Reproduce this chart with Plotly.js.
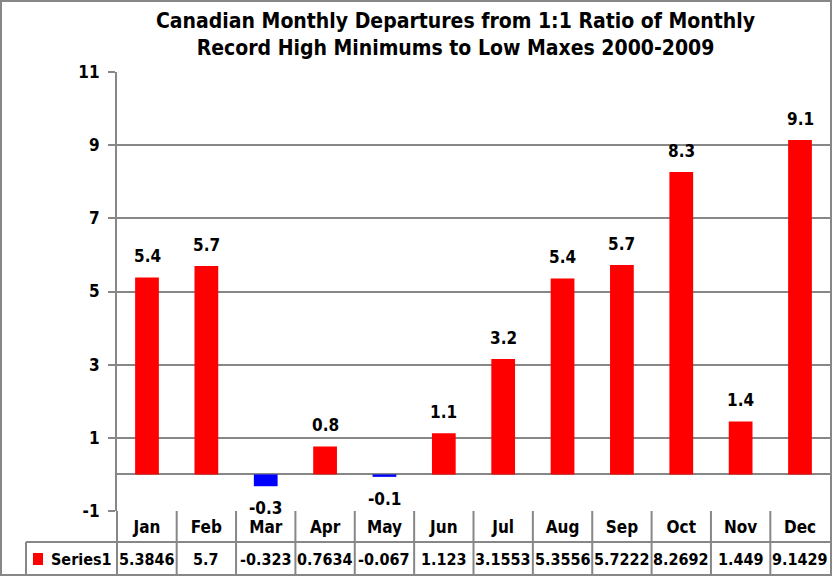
<!DOCTYPE html>
<html>
<head>
<meta charset="utf-8">
<script src="https://cdn.plot.ly/plotly-3.0.1.min.js"></script>
<style>
html,body{margin:0;padding:0;background:#fff;}
#chart{width:833px;height:577px;}
</style>
</head>
<body>
<div id="chart"></div>
<script>
const months = ["Jan","Feb","Mar","Apr","May","Jun","Jul","Aug","Sep","Oct","Nov","Dec"];
const values = [5.3846, 5.7, -0.323, 0.7634, -0.067, 1.123, 3.1553, 5.3556, 5.7222, 8.2692, 1.449, 9.1429];
const yTicks = [-1, 1, 3, 5, 7, 9, 11];
const seriesName = "Series1";
const titleText = "Canadian Monthly Departures from 1:1 Ratio of Monthly<br>Record High Minimums to Low Maxes 2000-2009";

const FONT = "Liberation Sans Narrow, DejaVu Sans Condensed, Arial Narrow, sans-serif";
const GRID = "#878787";

const W = 833, H = 577;
const M = {l: 117, r: 3, t: 72, b: 66};
const PW = W - M.l - M.r, PH = H - M.t - M.b;
const px = x => (x - M.l) / PW;          // pixel -> paper x
const py = y => (H - M.b - y) / PH;      // pixel -> paper y

const colors = values.map(v => v < 0 ? "#0000FF" : "#FF0000");

const trace = {
  type: "bar",
  x: months,
  y: values,
  marker: {color: colors, line: {width: 0}},
  hoverinfo: "x+y",
  showlegend: false
};

const annotations = [];
// title
annotations.push({
  x: px(455), y: py(34), xref: "paper", yref: "paper",
  text: titleText, showarrow: false, xanchor: "center", yanchor: "middle",
  font: {family: FONT, size: 21, color: "#000", weight: "bold"}
});
// data labels
values.forEach((v, i) => {
  annotations.push({
    x: months[i], y: v, xref: "x", yref: "y",
    text: v.toFixed(1), showarrow: false,
    yanchor: "middle", yshift: v < 0 ? -22 : 21,
    font: {family: FONT, size: 17, color: "#000", weight: "bold"}
  });
});
// data table values row
values.forEach((v, i) => {
  annotations.push({
    x: months[i], y: py(559), xref: "x", yref: "paper",
    text: String(v), showarrow: false, yanchor: "middle",
    font: {family: FONT, size: 16, color: "#000", weight: "bold"}
  });
});
// series label in table
annotations.push({
  x: px(49), y: py(559), xref: "paper", yref: "paper", xanchor: "left",
  text: seriesName, showarrow: false, yanchor: "middle",
  font: {family: FONT, size: 16, color: "#000", weight: "bold"}
});

const line = {color: GRID, width: 2};
const shapes = [];
// outer chart border
shapes.push({type: "rect", xref: "paper", yref: "paper", x0: px(1), x1: px(831), y0: py(575), y1: py(1), line: {color: GRID, width: 2}, layer: "below"});
// table vertical separators between categories
for (let i = 0; i < months.length - 1; i++) {
  shapes.push({type: "line", xref: "x", yref: "paper", x0: i + 0.5, x1: i + 0.5, y0: 0, y1: py(575), line: line});
}
// table left lines
shapes.push({type: "line", xref: "paper", yref: "paper", x0: 0, x1: 0, y0: 0, y1: py(575), line: line});
shapes.push({type: "line", xref: "paper", yref: "paper", x0: px(26), x1: px(26), y0: py(542), y1: py(575), line: line});
// table horizontal line
shapes.push({type: "line", xref: "paper", yref: "paper", x0: px(26), x1: px(831), y0: py(542), y1: py(542), line: line});
// legend key square
shapes.push({type: "rect", xref: "paper", yref: "paper", x0: px(33), x1: px(43), y0: py(565), y1: py(553), fillcolor: "#FF0000", line: {width: 0}});

const layout = {
  width: W, height: H,
  margin: M,
  paper_bgcolor: "#fff",
  plot_bgcolor: "#fff",
  bargap: 0.6,
  xaxis: {
    type: "category",
    showgrid: false,
    zeroline: false,
    showline: false,
    ticks: "",
    tickfont: {family: FONT, size: 17, color: "#000", weight: "bold"},
    ticklabelstandoff: 4,
    fixedrange: true
  },
  yaxis: {
    range: [-1, 11],
    tickmode: "array",
    tickvals: yTicks,
    ticktext: yTicks.map(String),
    showgrid: true, gridcolor: GRID, gridwidth: 2,
    zeroline: true, zerolinecolor: GRID, zerolinewidth: 2,
    showline: true, linecolor: GRID, linewidth: 2,
    ticks: "outside", ticklen: 7, tickcolor: GRID, tickwidth: 2,
    tickfont: {family: FONT, size: 17, color: "#000", weight: "bold"},
    ticklabelstandoff: 5,
    fixedrange: true
  },
  annotations: annotations,
  shapes: shapes,
  showlegend: false
};

Plotly.newPlot("chart", [trace], layout, {displayModeBar: false, staticPlot: true});
</script>
</body>
</html>
